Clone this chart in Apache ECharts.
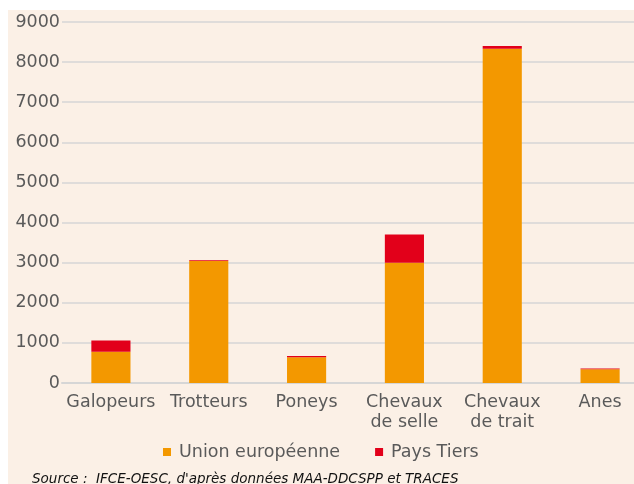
<!DOCTYPE html>
<html lang="fr">
<head>
<meta charset="UTF-8">
<title>Equidés</title>
<script src="https://cdn.jsdelivr.net/npm/echarts@6/dist/echarts.min.js"></script>
<style>
    body { margin: 0; background: #fff; overflow: hidden; }
    #bg { position: absolute; left: 8px; top: 10px; width: 626px; height: 474px; background: #fbf0e6; }
    #chart { position: absolute; left: 0; top: 0; width: 649px; height: 484px; }
</style>
</head>
<body>
<div id="bg"></div>
<div id="chart"></div>
<script>
    const categories = ['Galopeurs', 'Trotteurs', 'Poneys', 'Chevaux\nde selle', 'Chevaux\nde trait', 'Anes'];
    const unionEuropeenne = [780, 3040, 640, 3000, 8330, 340];
    const paysTiers = [280, 20, 35, 700, 70, 20];
    const yTicks = [0, 1000, 2000, 3000, 4000, 5000, 6000, 7000, 8000, 9000];

    const textColor = '#5a5a5a';
    const font = 'DejaVu Sans';

    const chart = echarts.init(document.getElementById('chart'));
    chart.setOption({
        animation: false,
        backgroundColor: 'transparent',
        grid: { left: 62, right: 0, top: 22, bottom: 101 },
        legend: {
            left: 158,
            top: 438,
            icon: 'rect',
            itemWidth: 8,
            itemHeight: 8,
            itemGap: 35,
            textStyle: { color: textColor, fontSize: 17.5, fontFamily: font, padding: [0, 0, 0, 3] },
            data: ['Union européenne', 'Pays Tiers']
        },
        xAxis: {
            type: 'category',
            data: categories,
            axisLine: { lineStyle: { color: '#d6d6d6', width: 2 } },
            axisTick: { show: false },
            axisLabel: { color: textColor, fontSize: 17.5, fontFamily: font, margin: 9, lineHeight: 20, interval: 0 }
        },
        yAxis: {
            type: 'value',
            min: yTicks[0],
            max: yTicks[yTicks.length - 1],
            interval: 1000,
            axisLine: { show: false },
            axisTick: { show: false },
            splitLine: { lineStyle: { color: '#d6d6d6', width: 1.5 } },
            axisLabel: { color: textColor, fontSize: 17.5, fontFamily: font, margin: 2, formatter: v => String(v) }
        },
        series: [
            {
                name: 'Union européenne',
                type: 'bar',
                stack: 'total',
                barWidth: '40%',
                data: unionEuropeenne,
                itemStyle: { color: '#f39800' }
            },
            {
                name: 'Pays Tiers',
                type: 'bar',
                stack: 'total',
                data: paysTiers,
                itemStyle: { color: '#e2001a' }
            }
        ],
        graphic: [{
            type: 'text',
            left: 32,
            top: 472,
            style: {
                text: "Source :  IFCE-OESC, d'après données MAA-DDCSPP et TRACES",
                fill: '#111',
                fontSize: 13.5,
                fontStyle: 'italic',
                fontFamily: font
            }
        }]
    });
</script>
</body>
</html>
